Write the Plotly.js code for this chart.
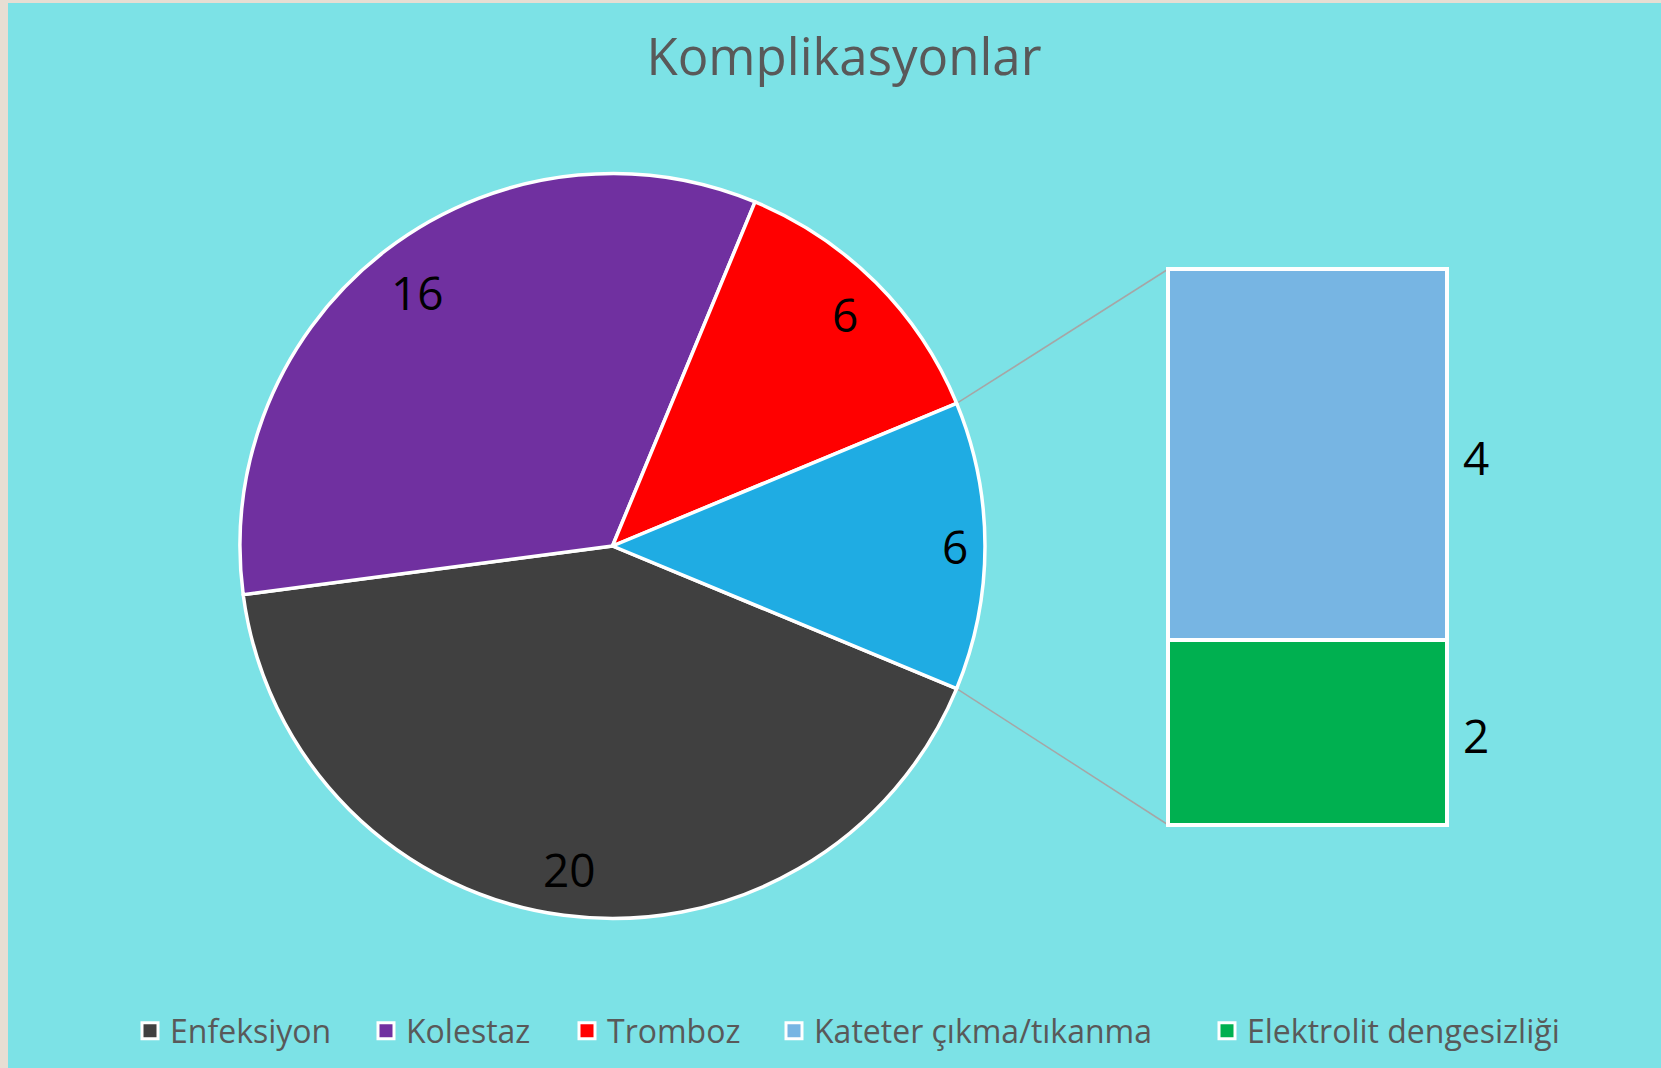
<!DOCTYPE html>
<html><head><meta charset="utf-8">
<script src="https://cdn.plot.ly/plotly-3.0.1.min.js"></script>
<style>html,body{margin:0;padding:0;background:#E7DED3;} #chart{width:1661px;height:1068px;}</style>
</head><body><div id="chart"></div>
<script>
// ---- data ----
const pieLabels = ['Enfeksiyon', 'Kolestaz', 'Tromboz'];
const pieValues = [20, 16, 6];
const barLabels = ['Kateter çıkma/tıkanma', 'Elektrolit dengesizliği'];
const barValues = [4, 2];
const otherLabel = 'Diğer';
const titleText = 'Komplikasyonlar';

// ---- styles ----
const pieColors = ['#404040', '#7030A0', '#FF0000'];
const otherColor = '#1FACE3';
const barColors = ['#77B5E3', '#00B050'];
const W = 1661, H = 1068;
const FONT = 'Open Sans, sans-serif';
const LABEL_SIZE = 46;

const otherValue = barValues.reduce((a, b) => a + b, 0);
const allValues = pieValues.concat([otherValue]);
const total = allValues.reduce((a, b) => a + b, 0);
const rotation = 90 + (otherValue / total) * 360 / 2;

const pieDomain = {x: [240 / W, 985 / W], y: [1 - 918.5 / H, 1 - 173.5 / H]};
const xDom = [0.68664, 0.88796], xRange = [-0.6, 0.6];
const yDom = [0.21018, 0.76548], yRange = [-0.2, 6.2];

// pie geometry (px)
const pw = (pieDomain.x[1] - pieDomain.x[0]) * W;
const ph = (pieDomain.y[1] - pieDomain.y[0]) * H;
const R = Math.min(pw, ph) / 2;
const cx = (pieDomain.x[0] + pieDomain.x[1]) / 2 * W;
const cy = (1 - (pieDomain.y[0] + pieDomain.y[1]) / 2) * H;
function piePoint(angleDeg, r) {
  const a = angleDeg * Math.PI / 180;
  return [(cx + r * Math.sin(a)) / W, 1 - (cy - r * Math.cos(a)) / H];
}
function dataToPaper(x, y) {
  return [xDom[0] + (x - xRange[0]) / (xRange[1] - xRange[0]) * (xDom[1] - xDom[0]),
          yDom[0] + (y - yRange[0]) / (yRange[1] - yRange[0]) * (yDom[1] - yDom[0])];
}

const traces = [];
traces.push({
  type: 'pie', labels: pieLabels.concat([otherLabel]), values: allValues,
  marker: {colors: pieColors.concat([otherColor]), line: {color: '#FFFFFF', width: 3.5}},
  sort: false, direction: 'clockwise', rotation: rotation,
  textinfo: 'none', hoverinfo: 'skip', showlegend: false, domain: pieDomain
});
// stacked bar: bottom first
for (let i = barValues.length - 1; i >= 0; i--) {
  traces.push({type: 'bar', x: [0], y: [barValues[i]], width: 1, name: barLabels[i], showlegend: false,
    marker: {color: barColors[i], line: {color: '#FFFFFF', width: 4}}, hoverinfo: 'skip'});
}
// legend entries
const legendIds = ['legend', 'legend2', 'legend3', 'legend4', 'legend5'];
const legendNames = pieLabels.concat(barLabels);
const legendColors = pieColors.concat(barColors);
legendNames.forEach((lab, i) => {
  traces.push({type: 'scatter', mode: 'markers', x: [null], y: [null], name: lab, legend: legendIds[i],
    marker: {symbol: 'square', size: 16, color: legendColors[i], line: {color: '#FFFFFF', width: 3}},
    hoverinfo: 'skip'});
});

const annotations = [];
// pie labels: placed "inside end" — text box touching an inner circle
const R_IN = R - 18.5;
let cum = 0;
allValues.forEach((v) => {
  const mid = rotation + (cum + v / 2) / total * 360;
  const a = mid * Math.PI / 180;
  const txt = String(v);
  const hw = txt.length * 11.5, hh = 25;
  const d = R_IN - (hw * Math.abs(Math.sin(a)) + hh * Math.abs(Math.cos(a)));
  const p = piePoint(mid, d);
  annotations.push({xref: 'paper', yref: 'paper', x: p[0], y: p[1], text: txt,
    showarrow: false, xanchor: 'center', yanchor: 'middle', font: {family: FONT, size: LABEL_SIZE, color: '#000000'}});
  cum += v;
});
// bar labels
let base = 0;
for (let i = barValues.length - 1; i >= 0; i--) {
  annotations.push({xref: 'x', yref: 'y', x: 0.5, y: base + barValues[i] / 2, text: String(barValues[i]),
    showarrow: false, xanchor: 'left', yanchor: 'middle', xshift: 14, yshift: -3,
    font: {family: FONT, size: LABEL_SIZE, color: '#000000'}});
  base += barValues[i];
}

// connector lines
const pTop = piePoint(rotation - (otherValue / total) * 360, R);
const pBot = piePoint(rotation, R);
const bTop = dataToPaper(-0.5, otherValue);
const bBot = dataToPaper(-0.5, 0);

const shapes = [
  {type: 'rect', xref: 'paper', yref: 'paper', x0: 8 / W, x1: 1, y0: 0, y1: 1 - 3 / H,
   fillcolor: '#7CE2E6', line: {width: 0}, layer: 'below'},
  {type: 'line', xref: 'paper', yref: 'paper', x0: pTop[0], y0: pTop[1], x1: bTop[0], y1: bTop[1],
   line: {color: '#A6A6A6', width: 1.5}, layer: 'below'},
  {type: 'line', xref: 'paper', yref: 'paper', x0: pBot[0], y0: pBot[1], x1: bBot[0], y1: bBot[1],
   line: {color: '#A6A6A6', width: 1.5}, layer: 'below'}
];

const legendX = [130, 366, 567, 774, 1207];
const layout = {
  width: W, height: H, margin: {l: 0, r: 0, t: 0, b: 0},
  paper_bgcolor: '#E7DED3', plot_bgcolor: 'rgba(0,0,0,0)',
  title: {text: titleText, x: 844 / W, xanchor: 'center', y: 1 - 57 / H, yanchor: 'middle',
    font: {family: FONT, size: 51, color: '#595959'}},
  barmode: 'stack', hovermode: false,
  xaxis: {domain: xDom, range: xRange, visible: false, fixedrange: true},
  yaxis: {domain: yDom, range: yRange, visible: false, fixedrange: true},
  shapes: shapes, annotations: annotations
};
legendIds.forEach((id, i) => {
  layout[id] = {x: legendX[i] / W, xanchor: 'left', y: 1 - 1031 / H, yanchor: 'middle',
    orientation: 'h', bgcolor: 'rgba(0,0,0,0)', borderwidth: 0,
    font: {family: FONT, size: 32, color: '#595959'}};
});

Plotly.newPlot('chart', traces, layout, {displayModeBar: false, staticPlot: true});
</script>
</body></html>
